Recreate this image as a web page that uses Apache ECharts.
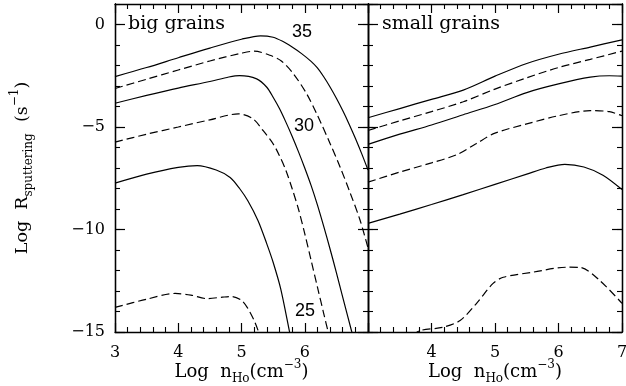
<!DOCTYPE html>
<html>
<head>
<meta charset="utf-8">
<script src="https://cdn.jsdelivr.net/npm/echarts@6/dist/echarts.min.js"></script>
<style>
  html, body { margin: 0; padding: 0; background: #fff; }
  #chart { width: 626px; height: 386px; }
</style>
</head>
<body>
<div id="chart"></div>
<script>
// big grains panel, [log n, log R]
const big35 = [[3,-2.54],[3.5,-2.1],[4,-1.62],[4.5,-1.15],[5,-0.72],[5.3,-0.55],[5.5,-0.62],[5.65,-0.82],[5.8,-1.1],[5.95,-1.42],[6.1,-1.8],[6.2,-2.12],[6.3,-2.55],[6.4,-3.05],[6.5,-3.6],[6.6,-4.2],[6.7,-4.85],[6.8,-5.55],[6.9,-6.3],[7,-7.1]];
const big32 = [[3,-3.12],[3.5,-2.67],[4,-2.22],[4.5,-1.78],[5,-1.4],[5.2,-1.3],[5.45,-1.5],[5.63,-1.78],[5.82,-2.4],[6.03,-3.38],[6.19,-4.36],[6.4,-5.8],[6.56,-6.96],[6.71,-8.15],[6.87,-9.5],[7,-10.9]];
const big30 = [[3,-3.84],[3.5,-3.46],[4,-3.1],[4.5,-2.78],[4.8,-2.56],[4.97,-2.49],[5.24,-2.65],[5.4,-3.06],[5.5,-3.55],[5.6,-4.1],[5.7,-4.75],[5.8,-5.45],[5.9,-6.2],[6.0,-7.0],[6.1,-7.85],[6.2,-8.8],[6.3,-9.85],[6.4,-10.95],[6.5,-12.1],[6.6,-13.3],[6.74,-14.95],[6.8,-15.7]];
const big27 = [[3,-5.74],[3.5,-5.35],[4,-5.0],[4.5,-4.65],[4.95,-4.36],[5.18,-4.6],[5.34,-5.17],[5.5,-5.82],[5.6,-6.4],[5.7,-7.1],[5.8,-8.0],[5.9,-9.0],[6.0,-10.2],[6.1,-11.5],[6.2,-12.8],[6.3,-14.1],[6.37,-15],[6.4,-15.4]];
const big25 = [[3,-7.74],[3.5,-7.3],[4,-6.97],[4.3,-6.88],[4.6,-7.1],[4.82,-7.46],[4.97,-8.0],[5.1,-8.6],[5.26,-9.56],[5.4,-10.7],[5.5,-11.6],[5.62,-12.9],[5.76,-15],[5.8,-15.6]];
const big22 = [[3,-13.8],[3.5,-13.4],[3.95,-13.12],[4.2,-13.2],[4.45,-13.37],[4.7,-13.3],[4.85,-13.27],[5.0,-13.46],[5.1,-13.85],[5.2,-14.44],[5.27,-15],[5.3,-15.4]];

// small grains panel
const small35 = [[3,-4.55],[3.5,-4.1],[4,-3.65],[4.5,-3.2],[5,-2.52],[5.5,-1.9],[6,-1.45],[6.5,-1.1],[7,-0.75]];
const small32 = [[3,-5.17],[3.5,-4.7],[4,-4.25],[4.5,-3.77],[5,-3.15],[5.5,-2.6],[6,-2.1],[6.5,-1.7],[7,-1.3]];
const small30 = [[3,-5.85],[3.5,-5.35],[4,-4.9],[4.5,-4.4],[5,-3.9],[5.5,-3.32],[6,-2.9],[6.5,-2.57],[6.8,-2.5],[7,-2.52]];
const small27 = [[3,-7.69],[3.5,-7.2],[4,-6.75],[4.4,-6.35],[4.7,-5.82],[5,-5.3],[5.5,-4.85],[6,-4.45],[6.5,-4.2],[6.8,-4.25],[7,-4.45]];
const small25 = [[3,-9.7],[3.5,-9.25],[4,-8.78],[4.5,-8.3],[5,-7.8],[5.5,-7.3],[5.8,-7.0],[6.1,-6.82],[6.4,-6.95],[6.7,-7.35],[7,-8.05]];
const small22 = [[3.7,-15.2],[3.82,-14.93],[4.18,-14.77],[4.45,-14.44],[4.71,-13.6],[4.97,-12.63],[5.13,-12.33],[5.6,-12.08],[6.13,-11.84],[6.34,-11.85],[6.65,-12.49],[7,-13.6]];

const xMin = 3, xMax = 7;
const yMin = -15, yMax = 1;
const curveLabels = ['35', '30', '25'];
const panelTitles = ['big grains', 'small grains'];
const xTitle = '{m|Log  n}{sub|Ho}{m|(cm}{sup|\u22123}{m|)}';
const yTitle = '{m|Log  R}{sub|sputtering}{m|  (s}{sup|\u22121}{m|)}';

const SERIF = '"DejaVu Serif", serif';
const SANS = '"Liberation Sans", Arial, sans-serif';
const INK = '#000';

const chart = echarts.init(document.getElementById('chart'), null, { renderer: 'canvas' });

const minus = v => String(v).replace('-', '\u2212');

const axisLine = { onZero: false, lineStyle: { color: INK, width: 1.3 } };

const titleRich = size => ({
  m: { fontFamily: SERIF, fontSize: size, color: INK, lineHeight: 26 },
  sub: { fontFamily: SERIF, fontSize: 12, color: INK, lineHeight: 12, verticalAlign: 'bottom' },
  sup: { fontFamily: SERIF, fontSize: 12, color: INK, lineHeight: 12, verticalAlign: 'top' }
});

function xAxes(grid, hideVal) {
  const base = {
    type: 'value', gridIndex: grid, min: xMin, max: xMax, interval: 1,
    axisLine: axisLine, splitLine: { show: false },
    axisTick: { inside: true, length: 9, lineStyle: { color: INK, width: 1.2 } },
    minorTick: { show: true, splitNumber: 5, length: 5, lineStyle: { color: INK, width: 1.1 } }
  };
  return [
    Object.assign({}, base, {
      position: 'bottom',
      axisLabel: {
        margin: 13, color: INK, fontFamily: SERIF, fontSize: 16,
        formatter: v => (v === hideVal ? '' : String(v))
      }
    }),
    Object.assign({}, base, { position: 'top', axisLabel: { show: false } })
  ];
}

function yAxes(grid, withLabels) {
  const major = {
    type: 'value', gridIndex: grid, min: yMin, max: yMax, interval: 5,
    axisLine: axisLine, splitLine: { show: false },
    axisTick: { inside: true, length: 10, lineStyle: { color: INK, width: 1.2 } },
    axisLabel: { show: false }
  };
  const minor = Object.assign({}, major, {
    interval: 1,
    axisTick: { inside: true, length: 5, lineStyle: { color: INK, width: 1.1 } }
  });
  const left = Object.assign({}, major, { position: 'left' });
  if (withLabels) {
    left.axisLabel = {
      show: true, margin: 10, color: INK, fontFamily: SERIF, fontSize: 16,
      showMaxLabel: false,
      formatter: v => (v === yMax ? '' : minus(v))
    };
    left.name = yTitle;
    left.nameLocation = 'middle';
    left.nameGap = 80;
    left.nameTextStyle = { rich: titleRich(17.5) };
  }
  return [
    left,
    Object.assign({}, major, { position: 'right' }),
    Object.assign({}, minor, { position: 'left' }),
    Object.assign({}, minor, { position: 'right' })
  ];
}

function line(data, dashed, grid) {
  return {
    type: 'line', data: data, xAxisIndex: grid * 2, yAxisIndex: grid * 4,
    showSymbol: false, smooth: 0.3, clip: true, silent: true,
    lineStyle: { color: INK, width: 1.2, type: dashed ? [8, 4] : 'solid' }
  };
}

const option = {
  animation: false,
  backgroundColor: '#fff',
  grid: [
    { left: 115, right: 258, top: 4, bottom: 54, outerBoundsMode: 'none', containLabel: false },
    { left: 368, right: 4, top: 4, bottom: 54, outerBoundsMode: 'none', containLabel: false }
  ],
  xAxis: xAxes(0, 7).concat(xAxes(1, 3)),
  yAxis: yAxes(0, true).concat(yAxes(1, false)),
  series: [
    line(big35, false, 0), line(big32, true, 0), line(big30, false, 0),
    line(big27, true, 0), line(big25, false, 0), line(big22, true, 0),
    line(small35, false, 1), line(small32, true, 1), line(small30, false, 1),
    line(small27, true, 1), line(small25, false, 1), line(small22, true, 1)
  ],
  graphic: [
    { type: 'text', left: 128, top: 15, style: { text: panelTitles[0], font: '19px ' + SERIF, fill: INK } },
    { type: 'text', left: 382, top: 15, style: { text: panelTitles[1], font: '19px ' + SERIF, fill: INK } },
    { type: 'text', x: 302, y: 32, style: { text: curveLabels[0], font: '18px ' + SANS, fill: INK, align: 'center', verticalAlign: 'middle' } },
    { type: 'text', x: 304, y: 126, style: { text: curveLabels[1], font: '18px ' + SANS, fill: INK, align: 'center', verticalAlign: 'middle' } },
    { type: 'text', x: 305, y: 311, style: { text: curveLabels[2], font: '18px ' + SANS, fill: INK, align: 'center', verticalAlign: 'middle' } },
    { type: 'text', x: 241.5, y: 372, style: { text: xTitle, rich: titleRich(18), align: 'center', verticalAlign: 'middle' } },
    { type: 'text', x: 495, y: 372, style: { text: xTitle, rich: titleRich(18), align: 'center', verticalAlign: 'middle' } }
  ]
};

chart.setOption(option);
</script>
</body>
</html>
